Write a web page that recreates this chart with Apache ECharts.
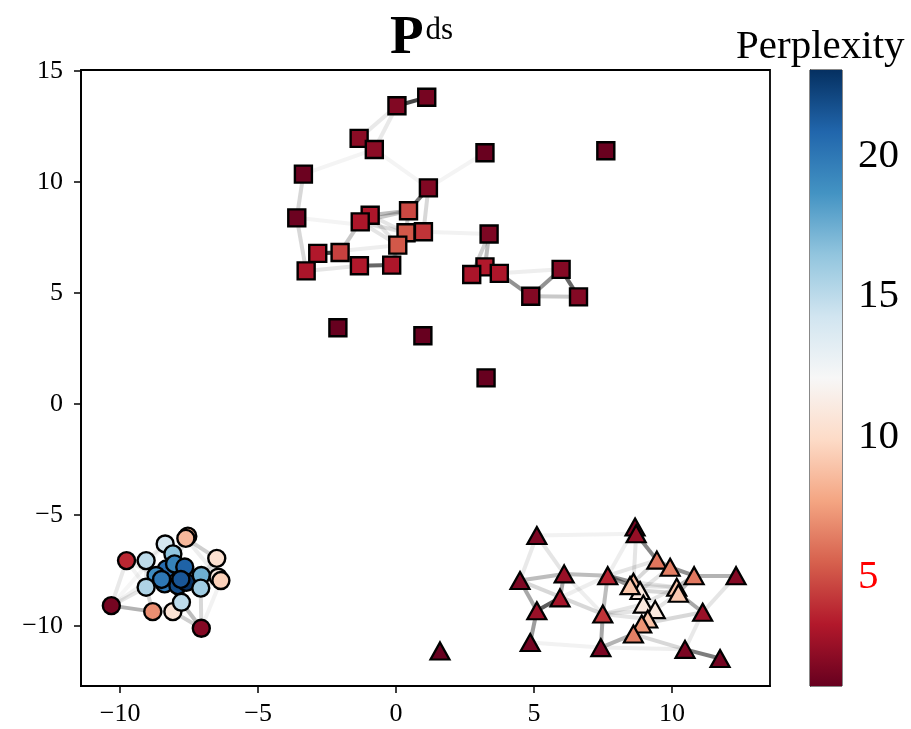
<!DOCTYPE html>
<html>
<head>
<meta charset="utf-8">
<script src="https://cdn.jsdelivr.net/npm/echarts@6/dist/echarts.min.js"></script>
<style>html,body{margin:0;padding:0;background:#fff}#c{width:911px;height:729px}</style>
</head>
<body>
<div id="c"></div>
<script>
// ---- data ----
const squareX = [1.11,0.03,-1.34,-0.79,3.22,7.60,-3.36,1.17,-3.60,-0.94,-1.30,0.45,0.36,0.99,0.06,-2.84,-2.03,-3.26,-1.33,-0.16,3.37,3.22,2.74,3.74,5.98,4.88,6.61,-2.11,0.97,3.26];
const squareY = [13.82,13.44,11.97,11.47,11.32,11.41,10.36,9.74,8.39,8.51,8.21,8.71,7.72,7.76,7.16,6.79,6.83,6.00,6.23,6.26,7.66,6.18,5.84,5.89,6.07,4.86,4.83,3.44,3.08,1.18];
const squareP = [1.6,1.9,2.2,2.2,1.2,1.2,1.3,1.9,1.3,3.2,3.2,4.8,5.3,4.2,5.3,3.3,4.6,3.1,3.3,3.2,1.8,3.3,3.1,3.2,2.0,2.0,2.0,1.15,1.15,1.15];

const circleX = [-7.55,-7.62,-8.37,-6.5,-9.77,-9.06,-8.09,-8.33,-8.70,-8.03,-7.66,-8.39,-7.91,-7.60,-7.06,-6.45,-6.35,-9.06,-7.08,-10.32,-8.82,-8.09,-7.78,-7.06,-7.8,-8.5];
const circleY = [-5.95,-6.05,-6.3,-6.95,-7.05,-7.05,-6.75,-7.43,-7.72,-7.2,-7.34,-8.1,-8.18,-8.03,-7.72,-7.8,-7.95,-8.25,-8.29,-9.08,-9.35,-9.35,-8.93,-10.1,-7.9,-7.9];
const circleP = [8.0,8.5,14,10.3,3.8,15,16.5,20.5,19,19.5,21,20,22,23,17.5,11,9.5,15.5,16,1.6,7,10.5,15,2,21.5,20];

const triX = [5.10,8.66,8.70,9.45,9.93,10.80,12.32,4.49,6.09,7.67,8.60,8.84,10.17,10.23,5.94,5.10,7.49,8.96,9.39,9.12,8.90,8.60,11.11,4.86,7.42,10.47,11.74,1.59,8.48];
const triY = [-5.92,-5.54,-5.84,-7.03,-7.35,-7.73,-7.73,-7.95,-7.65,-7.73,-8.03,-8.40,-8.25,-8.52,-8.73,-9.31,-9.46,-9.01,-9.26,-9.68,-9.91,-10.36,-9.38,-10.74,-10.97,-11.05,-11.46,-11.12,-8.18];
const triP = [1.8,1.6,2.5,6.2,6.5,6.3,2.0,1.8,2.6,3.6,8.7,11,9,9.2,3.0,2.6,4.2,11,11,9,7.2,6.5,2.6,1.5,1.7,1.7,1.5,1.15,9];

// edges: [i, j, weight]
const squareEdges = [[0,1,0.85],[1,2,0.1],[1,3,0.1],[3,7,0.05],[4,7,0.05],[6,8,0.18],[6,3,0.05],[8,17,0.18],[8,13,0.05],[7,11,0.65],[7,13,0.18],[11,9,0.3],[11,10,0.25],[11,12,0.25],[9,12,0.12],[10,12,0.12],[10,14,0.12],[9,14,0.12],[10,16,0.25],[15,16,0.85],[15,17,0.18],[17,18,0.12],[16,18,0.25],[18,19,0.7],[19,14,0.25],[19,12,0.15],[14,12,0.3],[13,14,0.18],[15,14,0.08],[13,20,0.06],[20,21,0.3],[20,22,0.22],[21,22,0.3],[21,23,0.3],[22,23,0.3],[23,25,0.5],[25,24,0.5],[24,26,0.7],[25,26,0.25],[23,24,0.08]];
const circleEdges = [[19,20,0.35],[19,4,0.1],[19,8,0.07],[19,17,0.12],[4,5,0.3],[4,8,0.08],[20,21,0.18],[20,17,0.18],[21,23,0.22],[22,23,0.3],[18,23,0.18],[1,3,0.22],[3,15,0.18],[3,14,0.12],[15,16,0.18],[2,6,0.18],[6,9,0.18],[1,9,0.12],[5,8,0.12],[8,11,0.3],[11,12,0.3],[12,13,0.4],[10,13,0.3],[7,9,0.3],[14,18,0.3],[13,18,0.22],[17,11,0.22],[21,22,0.18],[16,18,0.12],[1,6,0.08],[2,5,0.08],[5,17,0.08],[20,22,0.08],[22,12,0.22],[24,13,0.3],[25,11,0.3],[7,25,0.18],[10,24,0.18],[9,10,0.18],[4,17,0.06],[23,16,0.06],[19,2,0.04],[3,18,0.08],[1,15,0.08]];
const triEdges = [[0,7,0.1],[0,8,0.12],[7,8,0.3],[8,9,0.3],[7,16,0.18],[7,15,0.4],[15,14,0.75],[14,8,0.4],[15,23,0.45],[9,16,0.3],[16,24,0.4],[24,21,0.35],[9,10,0.5],[9,11,0.4],[2,3,0.55],[3,4,0.4],[4,5,0.5],[5,6,0.35],[13,22,0.4],[22,6,0.12],[22,25,0.1],[25,26,0.6],[24,25,0.08],[2,10,0.12],[1,9,0.08],[16,17,0.12],[16,18,0.12],[16,19,0.12],[10,12,0.12],[11,13,0.18],[28,12,0.12],[17,12,0.12],[18,13,0.12],[21,25,0.18],[20,22,0.18],[9,28,0.12],[8,16,0.08],[14,9,0.08],[9,3,0.12],[3,10,0.18],[4,11,0.12],[5,12,0.3],[5,13,0.3],[19,20,0.3],[20,21,0.3],[17,18,0.3],[11,17,0.18],[10,28,0.3],[28,11,0.3],[12,13,0.3],[18,19,0.3],[0,2,0.06],[23,24,0.06]];

const cbMin = 1.15, cbMax = 23.05;
const cbTicks = [5, 10, 15, 20];
const xTicks = [-10, -5, 0, 5, 10];
const yTicks = [-10, -5, 0, 5, 10, 15];
const rdbu = ['#67001f','#b2182b','#d6604d','#f4a582','#fddbc7','#f7f7f7','#d1e5f0','#92c5de','#4393c3','#2166ac','#053061'];

// ---- build ----
const FONT = 'Liberation Serif, DejaVu Serif, serif';
function pts(xs, ys, ps) { return xs.map((x, i) => [x, ys[i], ps[i]]); }
function edgeData(xs, ys, edges) {
  return edges.map(([i, j, w]) => ({ coords: [[xs[i], ys[i]], [xs[j], ys[j]]], lineStyle: { opacity: w } }));
}
const allEdges = [].concat(
  edgeData(squareX, squareY, squareEdges),
  edgeData(circleX, circleY, circleEdges),
  edgeData(triX, triY, triEdges)
);
const minusFmt = v => (v < 0 ? '\u2212' + Math.abs(v) : String(v));
const gradStops = rdbu.slice().reverse().map((c, i) => ({ offset: i / (rdbu.length - 1), color: c }));

const chart = echarts.init(document.getElementById('c'), null, { renderer: 'canvas' });
chart.setOption({
  animation: false,
  backgroundColor: '#fff',
  title: [
    { text: '{b|P}{s|ds}', left: 385, top: 6,
      textStyle: { rich: {
        b: { fontFamily: FONT, fontSize: 55, fontWeight: 'bold', color: '#000' },
        s: { fontFamily: FONT, fontSize: 31, fontWeight: 'normal', color: '#000', verticalAlign: 'top', padding: [4, 0, 0, 2] } } } },
    { text: 'Perplexity', left: 731, top: 22,
      textStyle: { fontFamily: FONT, fontSize: 41, fontWeight: 'normal', color: '#000' } }
  ],
  grid: [
    { left: 81, top: 70, width: 689, height: 616, show: true, borderColor: '#000', borderWidth: 1.8, containLabel: false },
    { left: 810, top: 70, width: 32, height: 616, show: true, borderColor: '#111', borderWidth: 1, containLabel: false }
  ],
  xAxis: [
    { gridIndex: 0, type: 'value', min: -11.42, max: 13.55,
      axisLine: { onZero: false, lineStyle: { color: '#000', width: 1.8 } },
      axisTick: { customValues: xTicks, length: 7, lineStyle: { color: '#000', width: 1.5 } },
      axisLabel: { customValues: xTicks, formatter: minusFmt, margin: 15, fontFamily: FONT, fontSize: 26, color: '#000' },
      splitLine: { show: false } },
    { gridIndex: 1, type: 'value', min: 0, max: 1, show: false }
  ],
  yAxis: [
    { gridIndex: 0, type: 'value', min: -12.7, max: 15.05,
      axisLine: { onZero: false, lineStyle: { color: '#000', width: 1.8 } },
      axisTick: { customValues: yTicks, length: 7, lineStyle: { color: '#000', width: 1.5 } },
      axisLabel: { customValues: yTicks, formatter: minusFmt, margin: 18, fontFamily: FONT, fontSize: 26, color: '#000' },
      splitLine: { show: false } },
    { gridIndex: 1, type: 'value', min: cbMin, max: cbMax, position: 'right',
      axisLine: { show: true, lineStyle: { color: '#111', width: 1 } },
      axisTick: { customValues: cbTicks, length: 8, lineStyle: { color: '#000', width: 1.5 } },
      axisLabel: { customValues: cbTicks, margin: 16, fontFamily: FONT, fontSize: 41,
        color: v => (Number(v) === 5 ? '#ff0000' : '#000') },
      splitLine: { show: false } }
  ],
  visualMap: {
    type: 'continuous', show: false, min: cbMin, max: cbMax, dimension: 2,
    seriesIndex: [1, 2, 3], inRange: { color: rdbu }
  },
  series: [
    { type: 'lines', coordinateSystem: 'cartesian2d', xAxisIndex: 0, yAxisIndex: 0,
      polyline: false, silent: true, z: 1,
      lineStyle: { color: '#262626', width: 4, opacity: 0.3 },
      data: allEdges },
    { type: 'scatter', xAxisIndex: 0, yAxisIndex: 0, symbol: 'rect', symbolSize: 17, z: 3,
      itemStyle: { borderColor: '#000', borderWidth: 2.4, opacity: 1 },
      data: pts(squareX, squareY, squareP) },
    { type: 'scatter', xAxisIndex: 0, yAxisIndex: 0, symbol: 'circle', symbolSize: 17, z: 3,
      itemStyle: { borderColor: '#000', borderWidth: 2.4, opacity: 1 },
      data: pts(circleX, circleY, circleP) },
    { type: 'scatter', xAxisIndex: 0, yAxisIndex: 0, symbol: 'triangle', symbolSize: [19, 17], z: 3,
      itemStyle: { borderColor: '#000', borderWidth: 2.2, opacity: 1 },
      data: pts(triX, triY, triP) },
    { type: 'custom', xAxisIndex: 1, yAxisIndex: 1, silent: true, clip: false,
      encode: { x: 0, y: [1, 2] },
      data: [[0, cbMin, cbMax]],
      renderItem: (params, api) => {
        const p0 = api.coord([0, api.value(2)]);
        const p1 = api.coord([1, api.value(1)]);
        return { type: 'rect',
          shape: { x: p0[0], y: p0[1], width: p1[0] - p0[0], height: p1[1] - p0[1] },
          style: { fill: new echarts.graphic.LinearGradient(0, 0, 0, 1, gradStops) } };
      } }
  ]
});
</script>
</body>
</html>
